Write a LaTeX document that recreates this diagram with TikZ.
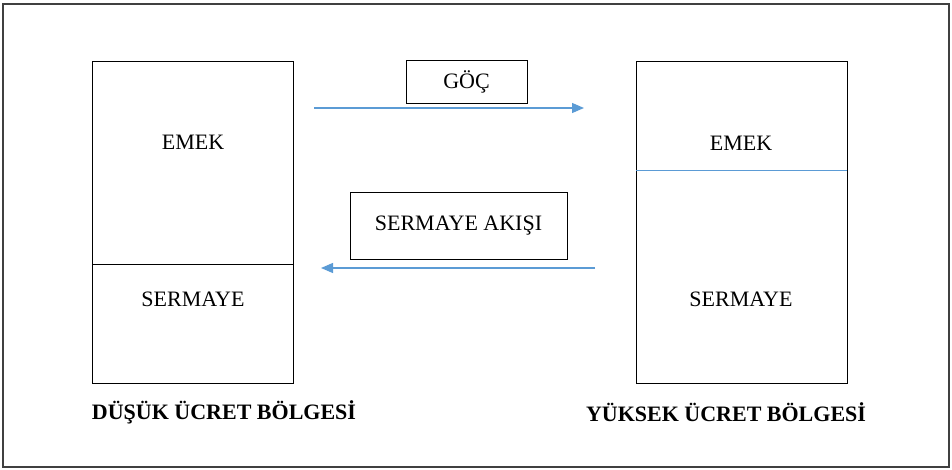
\documentclass[tikz,border=0pt]{standalone}
\usepackage{fontspec}
\setmainfont{Liberation Serif}
\usetikzlibrary{arrows.meta}
\definecolor{flowblue}{RGB}{91,155,213}

\begin{document}
\begin{tikzpicture}[x=1pt, y=-1pt]
		\tikzstyle{every node}=[inner sep=1pt, align=center, font=\fontsize{22}{26}\selectfont]
		\tikzstyle{label}=[font=\fontsize{22}{26}\selectfont\bfseries]
		\tikzstyle{tag}=[draw, line width=0.9pt]
		\tikzstyle{flow}=[draw=flowblue, line width=1.2pt, -{Triangle[length=12pt, width=10pt]}]
		\useasboundingbox (0,0) rectangle (952,470);
		\draw [line width=1.4pt, black!75] (3,4) rectangle (949,467);
		% regions
		\draw [line width=0.9pt] (92,61) rectangle (293,383);
		\draw [line width=0.9pt] (92,264) -- (293,264);
		\draw [line width=0.9pt] (636,61) rectangle (847,383);
		\draw [line width=0.9pt, flowblue] (636,170) -- (847,170);
		\node (lowEmek) at (193,142) {EMEK};
		\node (lowSermaye) at (193,299) {SERMAYE};
		\node (highEmek) at (741,143) {EMEK};
		\node (highSermaye) at (741,299) {SERMAYE};
		\node [label] (low) at (224,412) {DÜŞÜK ÜCRET BÖLGESİ};
		\node [label] (high) at (726,412) {YÜKSEK ÜCRET BÖLGESİ};
		% flows
		\node [tag, minimum width=121, minimum height=43] (goc) at (466.5,81.5) {GÖÇ};
		\node [tag, minimum width=217, minimum height=67] (akis) at (458.5,225.5) {SERMAYE AKIŞI};
		\coordinate (gocFrom) at (314,108);
		\coordinate (gocTo) at (584,108);
		\coordinate (akisFrom) at (595,268);
		\coordinate (akisTo) at (321,268);
		\draw [flow] (gocFrom) -- (gocTo);
		\draw [flow] (akisFrom) -- (akisTo);
\end{tikzpicture}
\end{document}
